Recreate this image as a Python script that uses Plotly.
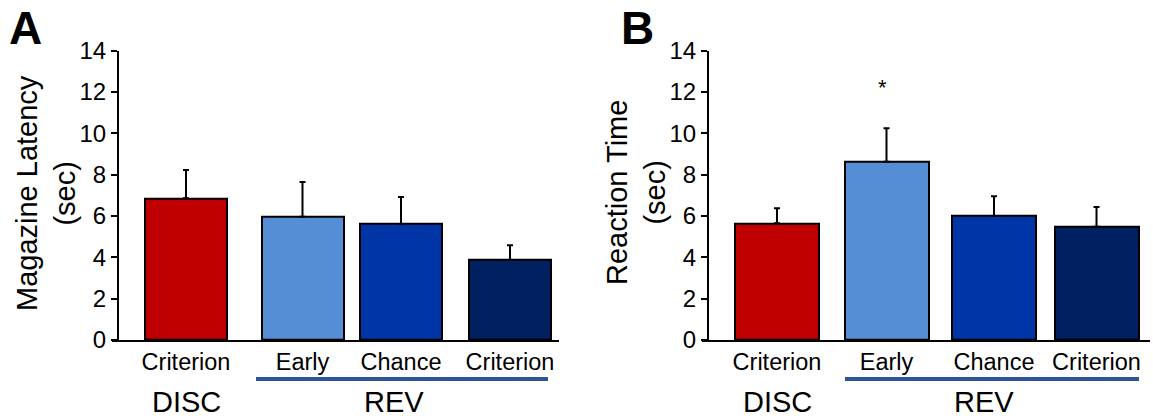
import plotly.graph_objects as go

# ---- data ----
categories = ["Criterion", "Early", "Chance", "Criterion"]
latency_mean = [6.86, 5.97, 5.61, 3.87]
latency_sem = [1.37, 1.68, 1.31, 0.71]
reaction_mean = [5.65, 8.63, 6.00, 5.48]
reaction_sem = [0.72, 1.62, 0.96, 0.96]
y_ticks = [0, 2, 4, 6, 8, 10, 12, 14]
bar_colors = ["#c00000", "#558ed5", "#0035a8", "#002060"]

# ---- layout constants (pixel based) ----
W, H = 1153, 419
FONT = "Liberation Sans, Arial, sans-serif"
Y0_PX, Y14_PX = 340, 50.7          # vertical pixel of value 0 and 14
ydom = [(H - Y0_PX) / H, (H - Y14_PX) / H]

panels = [
    dict(x0=112, x1=559, yline=118, slots=[74, 190.5, 289, 398], bw=82,
         title="Magazine Latency<br>(sec)", title_x=46, letter="A", letter_x=7,
         disc_x=186, rev_x=394, rev_line=(256, 548),
         mean=latency_mean, sem=latency_sem),
    dict(x0=702, x1=1150, yline=708, slots=[75, 184.5, 292, 394.5], bw=84,
         title="Reaction Time<br>(sec)", title_x=636, letter="B", letter_x=619,
         disc_x=777, rev_x=984, rev_line=(845, 1139),
         mean=reaction_mean, sem=reaction_sem),
]

fig = go.Figure()
annotations = []
shapes = []

for i, p in enumerate(panels):
    xa = "x" if i == 0 else "x2"
    ya = "y" if i == 0 else "y2"
    fig.add_trace(go.Bar(
        x=p["slots"], y=p["mean"], width=p["bw"],
        marker=dict(color=bar_colors, line=dict(color="black", width=2)),
        error_y=dict(type="data", symmetric=False, array=p["sem"],
                     arrayminus=[0] * len(p["sem"]), color="black",
                     thickness=2, width=3),
        xaxis=xa, yaxis=ya, showlegend=False, hoverinfo="skip",
    ))

    span = p["x1"] - p["x0"]
    axis_x = dict(domain=[p["x0"] / W, p["x1"] / W], range=[0, span],
                  showgrid=False, zeroline=False, showline=True,
                  linecolor="black", linewidth=2, ticks="",
                  tickvals=p["slots"], ticktext=categories,
                  tickfont=dict(family=FONT, size=23.5, color="black"),
                  anchor=ya, fixedrange=True)
    axis_y = dict(domain=ydom, range=[0, 14], tickvals=y_ticks,
                  showgrid=False, zeroline=False, showline=True,
                  linecolor="black", linewidth=2, ticks="outside",
                  ticklen=6, tickwidth=2, tickcolor="black",
                  tickfont=dict(family=FONT, size=24, color="black"),
                  anchor="free", position=p["yline"] / W, fixedrange=True)
    if i == 0:
        fig.update_layout(xaxis=axis_x, yaxis=axis_y)
    else:
        fig.update_layout(xaxis2=axis_x, yaxis2=axis_y)

    # axis title
    annotations.append(dict(text=p["title"], textangle=-90, xref="paper", yref="paper",
                            x=p["title_x"] / W, y=(H - 193) / H, xanchor="center",
                            yanchor="middle", showarrow=False,
                            font=dict(family=FONT, size=29, color="black")))
    # panel letter
    annotations.append(dict(text="<b>%s</b>" % p["letter"], xref="paper", yref="paper",
                            x=p["letter_x"] / W, y=(H - 28) / H, xanchor="left",
                            yanchor="middle", showarrow=False,
                            font=dict(family=FONT, size=46, color="black")))
    # phase labels with the bracket line under the reversal sessions
    for txt, cx in (("DISC", p["disc_x"]), ("REV", p["rev_x"])):
        annotations.append(dict(text=txt, xref="paper", yref="paper",
                                x=cx / W, y=(H - 402) / H, xanchor="center",
                                yanchor="middle", showarrow=False,
                                font=dict(family=FONT, size=29, color="black")))
    shapes.append(dict(type="line", xref="paper", yref="paper",
                       x0=p["rev_line"][0] / W, x1=p["rev_line"][1] / W,
                       y0=(H - 379) / H, y1=(H - 379) / H,
                       line=dict(color="#2f5496", width=4)))

# significance marker over REV Early reaction time
annotations.append(dict(text="*", xref="x2", yref="y2", x=panels[1]["slots"][1] - 4,
                        y=12.2, xanchor="center", yanchor="middle", showarrow=False,
                        font=dict(family=FONT, size=22, color="black")))

fig.update_layout(width=W, height=H,
                  margin=dict(l=0, r=0, t=0, b=0, autoexpand=False),
                  paper_bgcolor="white", plot_bgcolor="white",
                  annotations=annotations, shapes=shapes, bargap=0)

fig.write_html("out.html")
